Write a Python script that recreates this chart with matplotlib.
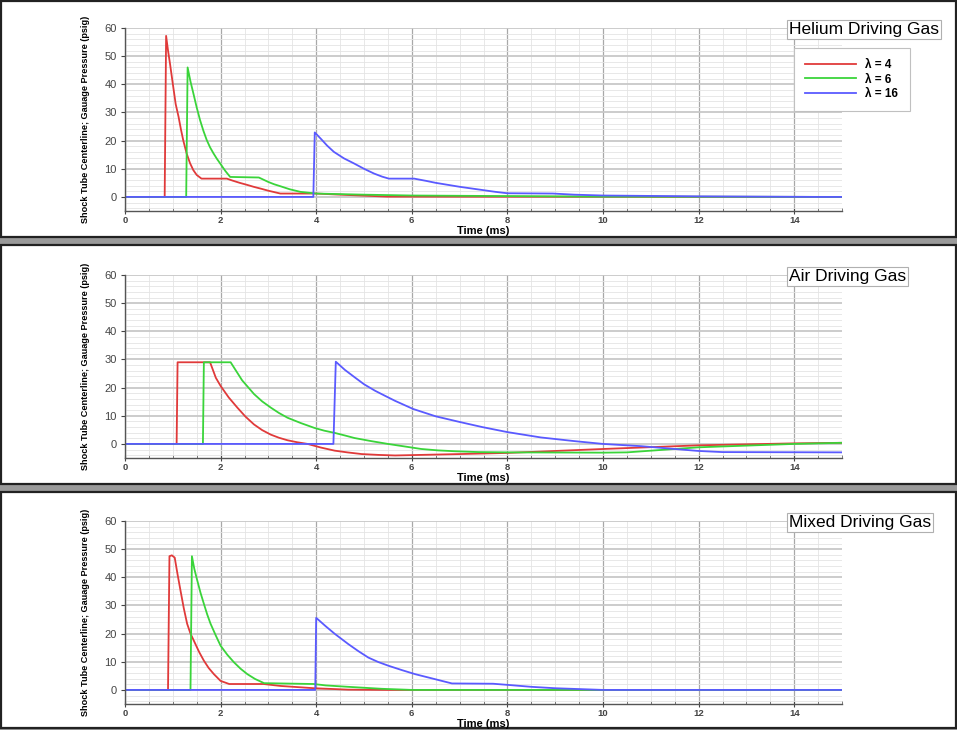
import matplotlib
matplotlib.use('Agg')
import matplotlib.pyplot as plt
from matplotlib.patches import Rectangle
from matplotlib.ticker import MultipleLocator

plt.rcParams['font.family'] = ['Liberation Sans', 'DejaVu Sans']

# pressure traces (time in ms, pressure in psig)
he4_t = [0, 0.83, 0.86, 0.9, 0.94, 1.01, 1.06, 1.12, 1.17, 1.22, 1.29, 1.36, 1.43, 1.5, 1.6, 2.13,
         2.25, 2.4, 2.55, 2.69, 2.85, 3.0, 3.25, 4.0, 4.5, 5.5, 15]
he4_p = [0, 0, 57.2, 52.0, 47.5, 39.0, 33.0, 28.5, 24.0, 20.0, 15.4, 12.0, 9.5, 7.8, 6.5, 6.5,
         5.8, 5.0, 4.3, 3.6, 2.9, 2.2, 1.2, 1.2, 0.8, 0.1, 0]
he6_t = [0, 1.28, 1.31, 1.37, 1.43, 1.5, 1.57, 1.64, 1.71, 1.78, 1.85, 1.92, 1.99, 2.1, 2.2, 2.8,
         2.9, 3.0, 3.12, 3.25, 3.45, 3.67, 4.0, 5.0, 6.0, 8.0, 10.0, 15]
he6_p = [0, 0, 46.0, 41.0, 36.8, 31.8, 27.3, 23.5, 20.2, 17.6, 15.5, 13.6, 11.9, 9.2, 7.1, 6.9,
         6.1, 5.3, 4.5, 3.8, 2.7, 1.8, 1.2, 0.8, 0.5, 0.3, 0.1, 0]
he16_t = [0, 3.94, 3.97, 4.1, 4.23, 4.37, 4.58, 4.79, 5.0, 5.21, 5.38, 5.52, 6.05, 6.3, 6.5, 6.75,
          7.0, 7.25, 7.5, 7.75, 8.0, 8.95, 9.4, 10.0, 12.0, 14.5, 15]
he16_p = [0, 0, 22.9, 20.6, 18.2, 16.0, 13.7, 11.9, 10.0, 8.3, 7.2, 6.5, 6.5, 5.7, 5.0, 4.3,
          3.6, 3.0, 2.4, 1.8, 1.3, 1.2, 0.8, 0.5, 0.2, 0, 0]

air4_t = [0, 1.08, 1.10, 1.78, 1.9, 2.0, 2.17, 2.35, 2.52, 2.7, 2.87, 3.05, 3.22, 3.4, 3.6, 3.82,
          4.1, 4.39, 4.65, 4.95, 5.3, 5.65, 7.0, 8.0, 10.0, 12.0, 14.0, 15]
air4_p = [0, 0, 29.0, 29.0, 23.5, 20.6, 16.5, 12.9, 9.7, 6.9, 4.9, 3.3, 2.2, 1.3, 0.6, 0,
          -1.3, -2.4, -3.0, -3.6, -3.9, -4.1, -3.6, -3.2, -1.8, -0.5, 0.2, 0.4]
air6_t = [0, 1.63, 1.65, 2.21, 2.45, 2.7, 2.87, 3.05, 3.22, 3.4, 3.68, 3.96, 4.17, 4.39, 4.6, 4.8,
          5.15, 5.5, 5.85, 6.2, 6.55, 6.9, 7.4, 8.0, 10.0, 10.5, 12.0, 14.0, 15]
air6_p = [0, 0, 29.0, 29.0, 22.6, 17.7, 15.1, 12.9, 11.0, 9.3, 7.4, 5.7, 4.7, 3.9, 3.0, 2.1,
          1.0, 0, -0.9, -1.8, -2.3, -2.6, -2.9, -3.0, -3.1, -3.0, -1.2, 0, 0.4]
air16_t = [0, 4.36, 4.41, 4.6, 4.81, 5.0, 5.23, 5.45, 5.65, 6.03, 6.5, 7.0, 7.47, 8.0, 8.7, 9.4,
           10.0, 10.8, 11.5, 12.0, 12.5, 15]
air16_p = [0, 0, 29.2, 26.3, 23.6, 21.2, 18.9, 17.0, 15.3, 12.4, 9.8, 7.8, 6.0, 4.2, 2.3, 1.0,
           0, -0.8, -1.8, -2.5, -2.9, -3.0]

mx4_t = [0, 0.90, 0.93, 0.98, 1.04, 1.1, 1.16, 1.23, 1.3, 1.37, 1.44, 1.55, 1.65, 1.75, 1.86, 2.0,
         2.18, 2.9, 3.26, 3.96, 4.67, 5.5, 15]
mx4_p = [0, 0, 47.5, 47.8, 47.0, 41.0, 35.4, 29.0, 23.5, 20.0, 17.5, 13.5, 10.4, 7.8, 5.6, 3.2,
         2.1, 2.1, 1.4, 0.6, 0.1, 0, 0]
mx6_t = [0, 1.37, 1.40, 1.45, 1.51, 1.58, 1.65, 1.72, 1.79, 1.9, 2.0, 2.14, 2.28, 2.42, 2.56, 2.72,
         2.91, 3.95, 4.2, 4.67, 5.37, 6.0, 15]
mx6_p = [0, 0, 47.5, 43.0, 39.0, 34.5, 30.6, 26.8, 23.5, 19.3, 15.7, 12.5, 9.8, 7.5, 5.6, 3.9,
         2.4, 2.1, 1.6, 1.1, 0.4, 0, 0]
mx16_t = [0, 3.98, 4.0, 4.2, 4.39, 4.67, 4.88, 5.09, 5.3, 5.51, 5.8, 6.07, 6.28, 6.49, 6.84, 7.7,
          8.0, 8.5, 9.0, 10.0, 15]
mx16_p = [0, 0, 25.6, 22.6, 19.9, 16.3, 13.8, 11.5, 9.9, 8.6, 7.0, 5.6, 4.7, 3.8, 2.3, 2.2,
          1.8, 1.1, 0.6, 0, 0]

labels = ['\u03bb = 4', '\u03bb = 6', '\u03bb = 16']
colors = ['#e03a3a', '#3ad43a', '#5a5aff']
titles = ['Helium Driving Gas', 'Air Driving Gas', 'Mixed Driving Gas']
panels = [
    [(he4_t, he4_p), (he6_t, he6_p), (he16_t, he16_p)],
    [(air4_t, air4_p), (air6_t, air6_p), (air16_t, air16_p)],
    [(mx4_t, mx4_p), (mx6_t, mx6_p), (mx16_t, mx16_p)],
]

W, H = 957, 730
fig = plt.figure(figsize=(W / 100, H / 100), dpi=100)
fig.patch.set_facecolor('#9a9a9a')

# panel boxes (top, bottom in pixels) and axes extents
boxes = [(1, 237), (245, 484), (492, 728)]
ax_tops = [28, 275, 521]
ax_h = 183
x0, x1 = 125, 842

for b in boxes:
    fig.patches.append(Rectangle((1 / W, 1 - b[1] / H), (W - 2) / W, (b[1] - b[0]) / H,
                                 transform=fig.transFigure, facecolor='white',
                                 edgecolor='#222222', linewidth=1.6, zorder=-10))

for i in range(3):
    top = ax_tops[i]
    ax = fig.add_axes([x0 / W, 1 - (top + ax_h) / H, (x1 - x0) / W, ax_h / H])
    ax.patch.set_alpha(0)
    for (t, p), c, lab in zip(panels[i], colors, labels):
        ax.plot(t, p, color=c, lw=1.3, label=lab)
    ax.set_xlim(0, 15)
    ax.set_ylim(-5, 60)
    ax.xaxis.set_major_locator(MultipleLocator(2))
    ax.xaxis.set_minor_locator(MultipleLocator(0.5))
    ax.yaxis.set_major_locator(MultipleLocator(10))
    ax.yaxis.set_minor_locator(MultipleLocator(2))
    ax.set_axisbelow(True)
    ax.grid(axis='x', which='major', color='#a8a8a8', lw=0.9)
    ax.grid(axis='y', which='major', color='#c8c8c8', lw=1.3)
    ax.grid(which='minor', color='#e4e4e4', lw=0.6)
    for s in ['top', 'right']:
        ax.spines[s].set_visible(False)
    for s in ['left', 'bottom']:
        ax.spines[s].set_color('#555555')
        ax.spines[s].set_linewidth(1.0)
    ax.tick_params(axis='x', which='major', direction='inout', length=5, pad=1,
                   labelsize=6.8, colors='#444444')
    ax.tick_params(axis='x', which='minor', direction='in', length=2, colors='#666666')
    ax.tick_params(axis='y', which='major', direction='out', length=3, pad=3,
                   labelsize=8, colors='#444444')
    ax.tick_params(axis='y', which='minor', length=0)
    for lbl in ax.get_xticklabels():
        lbl.set_fontweight('bold')
    ax.set_xlabel('Time (ms)', fontsize=8, fontweight='bold', labelpad=0.5)
    ax.set_ylabel('Shock Tube Centerline; Gauage Pressure (psig)', fontsize=6.6,
                  fontweight='bold', labelpad=10)
    fig.text(789 / W, 1 - (top + 1.5) / H, titles[i], fontsize=12.5, ha='left',
             va='center', bbox=dict(boxstyle='square,pad=0.12', facecolor='white',
                                    edgecolor='#b0b0b0', linewidth=0.8))
    if i == 0:
        leg = ax.legend(loc='upper left', bbox_to_anchor=(794 / W, 1 - 48 / H),
                        bbox_transform=fig.transFigure, borderaxespad=0,
                        fancybox=False, edgecolor='#c0c0c0', framealpha=1,
                        prop={'size': 8.5, 'weight': 'bold'}, handlelength=4.3,
                        handletextpad=0.8, labelspacing=0.2, borderpad=0.95)
        leg.get_frame().set_linewidth(0.8)

fig.savefig('out.png', dpi=100, facecolor=fig.get_facecolor())
